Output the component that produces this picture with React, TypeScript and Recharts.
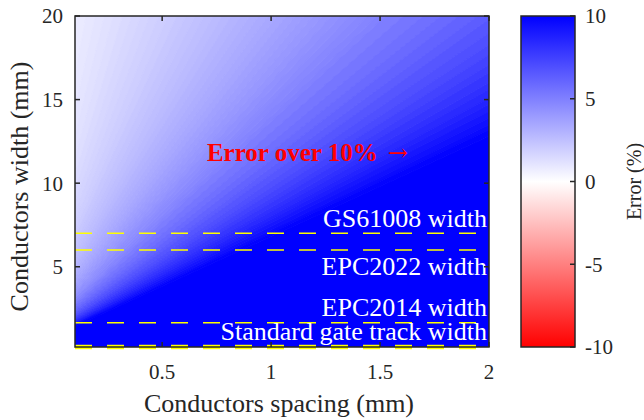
import React from 'react';
import {
  ComposedChart,
  Area,
  Line,
  XAxis,
  YAxis,
  ReferenceLine,
  ReferenceDot,
  ReferenceArea,
} from 'recharts';

// error contour levels (%) and the conductor width (mm) where each level
// line crosses the left (spacing 0.1 mm) and right (spacing 2 mm) edge
const errorLevels = [
  0.625, 0.75, 0.875, 1, 1.125, 1.25, 1.375, 1.5, 1.625, 1.75,
  1.875, 2, 2.125, 2.25, 2.375, 2.5, 2.625, 2.75, 2.875, 3,
  3.125, 3.25, 3.375, 3.5, 3.625, 3.75, 3.875, 4, 4.125, 4.25,
  4.375, 4.5, 4.625, 4.75, 4.875, 5, 5.25, 5.5, 5.75, 6,
  6.25, 6.5, 6.75, 7, 7.25, 7.5, 7.75, 8, 8.25, 8.5,
  8.75, 9, 9.25, 9.5, 9.75, 10,
];
const widthAtLeft = [
  23.04, 19.2, 16.46, 14.4, 12.8, 11.52, 10.47, 9.6, 8.86, 8.23,
  7.68, 7.2, 6.78, 6.4, 6.06, 5.76, 5.49, 5.24, 5.01, 4.8,
  4.61, 4.43, 4.27, 4.11, 3.97, 3.84, 3.72, 3.6, 3.49, 3.39,
  3.29, 3.2, 3.11, 3.03, 2.95, 2.88, 2.74, 2.62, 2.5, 2.4,
  2.3, 2.22, 2.13, 2.06, 1.99, 1.92, 1.86, 1.8, 1.75, 1.69,
  1.65, 1.6, 1.56, 1.52, 1.48, 1.44,
];
const widthAtRight = [
  205.4, 171.2, 146.7, 128.4, 114.1, 102.7, 93.4, 85.6, 79.0, 73.4,
  68.5, 64.2, 60.4, 57.1, 54.1, 51.4, 48.9, 46.7, 44.7, 42.8,
  41.1, 39.5, 38.0, 36.7, 35.4, 34.2, 33.1, 32.1, 31.1, 30.2,
  29.3, 28.5, 27.8, 27.0, 26.3, 25.7, 24.5, 23.3, 22.3, 21.4,
  20.5, 19.8, 19.0, 18.3, 17.7, 17.1, 16.6, 16.0, 15.6, 15.1,
  14.7, 14.3, 13.9, 13.5, 13.2, 12.8,
];
const spacingEnds = [0.1, 2];
const widthRange = [0.2, 20];

const spacingTicks = [0.5, 1, 1.5, 2];
const widthTicks = [5, 10, 15, 20];

// reference device widths (mm)
const deviceNames = ['GS61008 width', 'EPC2022 width', 'EPC2014 width', 'Standard gate track width'];
const deviceWidths = [7, 6, 1.65, 0.2];

// colour scale
const cbarTicks = [-10, -5, 0, 5, 10];
const cbarColors = ['#ff0000', '#ff8080', '#ffffff', '#8080ff', '#0000ff'];

const FONT = '"Liberation Serif", "Times New Roman", Times, serif';
const INK = '#262626';

// plot box of the map, in page pixels
const PLOT = { left: 75, top: 16, right: 489, bottom: 347 };
const MAP_W = 500;
const H = 420;
const CBAR = { left: 21, right: 75, width: 144 };

const hexToRgb = (h: string) => [1, 3, 5].map((i) => parseInt(h.slice(i, i + 2), 16));

function errorColor(e: number) {
  const v = Math.max(cbarTicks[0], Math.min(cbarTicks[cbarTicks.length - 1], e));
  let i = 0;
  while (i < cbarTicks.length - 2 && v > cbarTicks[i + 1]) i++;
  const t = (v - cbarTicks[i]) / (cbarTicks[i + 1] - cbarTicks[i]);
  const a = hexToRgb(cbarColors[i]);
  const b = hexToRgb(cbarColors[i + 1]);
  const c = a.map((x, k) => Math.round(x + (b[k] - x) * t));
  return `rgb(${c[0]},${c[1]},${c[2]})`;
}

// one row per plot edge; each band spans two neighbouring contour lines
const bandCount = errorLevels.length - 1;
const mapRows = spacingEnds.map((s, i) => {
  const edge = i === 0 ? widthAtLeft : widthAtRight;
  const row: Record<string, any> = { s };
  for (let k = 0; k < bandCount; k++) row[`band${k}`] = [edge[k + 1], edge[k]];
  row.saturated = [0, edge[edge.length - 1]];
  return row;
});
const bandColors = errorLevels.slice(0, -1).map((e, k) => errorColor((e + errorLevels[k + 1]) / 2));

const cbarRows = [0, 1].map((p) => ({ p, span: [cbarTicks[0], cbarTicks[cbarTicks.length - 1]] }));

const labelDy = [-6, 24.5, -6.5, -7.5];

function DeviceLabel(props: any) {
  const { viewBox, text, dy } = props;
  if (!viewBox) return null;
  return (
    <text
      x={viewBox.x + viewBox.width - 2}
      y={viewBox.y + dy}
      textAnchor="end"
      fill="#ffffff"
      fontSize={26}
      fontFamily={FONT}
    >
      {text}
    </text>
  );
}

function OverLabel(props: any) {
  const { viewBox } = props;
  if (!viewBox) return null;
  return (
    <text x={viewBox.x} y={viewBox.y} fill="#ff0000" fontSize={25} fontFamily={FONT} fontWeight="bold">
      Error over 10%
      <tspan dx={10} fontWeight="normal" fontFamily='"DejaVu Serif", serif' fontSize={24}>→</tspan>
    </text>
  );
}

function XTitle(props: any) {
  const { viewBox } = props;
  if (!viewBox) return null;
  return (
    <text x={viewBox.x + viewBox.width / 2 - 3} y={viewBox.y + 65} textAnchor="middle" fill={INK} fontSize={26} fontFamily={FONT}>
      Conductors spacing (mm)
    </text>
  );
}

function YTitle(props: any) {
  const { viewBox } = props;
  if (!viewBox) return null;
  const x = viewBox.x + 28;
  const y = viewBox.y + viewBox.height / 2 + 5;
  return (
    <text x={x} y={y} transform={`rotate(-90, ${x}, ${y})`} textAnchor="middle" fill={INK} fontSize={26} fontFamily={FONT}>
      Conductors width (mm)
    </text>
  );
}

function CbarTitle(props: any) {
  const { viewBox } = props;
  if (!viewBox) return null;
  const x = viewBox.x + 66;
  const y = viewBox.y + viewBox.height / 2;
  return (
    <text x={x} y={y} transform={`rotate(-90, ${x}, ${y})`} textAnchor="middle" fill={INK} fontSize={20} fontFamily={FONT}>
      Error (%)
    </text>
  );
}

// inward tick marks on both sides of the box, MATLAB style
function SpacingTick(props: any) {
  const { x, y, payload } = props;
  return (
    <g>
      <line x1={x} y1={y} x2={x} y2={y - 5} stroke={INK} strokeWidth={1.5} />
      <line x1={x} y1={PLOT.top} x2={x} y2={PLOT.top + 5} stroke={INK} strokeWidth={1.5} />
      <text x={x} y={y + 17} dy="0.71em" textAnchor="middle" fill={INK} fontSize={21} fontFamily={FONT}>
        {payload.value}
      </text>
    </g>
  );
}

function WidthTick(props: any) {
  const { x, y, payload } = props;
  return (
    <g>
      <line x1={x} y1={y} x2={x + 5} y2={y} stroke={INK} strokeWidth={1.5} />
      <line x1={PLOT.right - 5} y1={y} x2={PLOT.right} y2={y} stroke={INK} strokeWidth={1.5} />
      <text x={x - 12} y={y} dy="0.35em" textAnchor="end" fill={INK} fontSize={21} fontFamily={FONT}>
        {payload.value}
      </text>
    </g>
  );
}

function CbarTick(props: any) {
  const { x, y, payload } = props;
  return (
    <g>
      <line x1={x - 5} y1={y} x2={x} y2={y} stroke={INK} strokeWidth={1.5} />
      <text x={x + 10} y={y} dy="0.35em" textAnchor="start" fill={INK} fontSize={21} fontFamily={FONT}>
        {payload.value}
      </text>
    </g>
  );
}

const mapMargin = { top: PLOT.top, right: MAP_W - PLOT.right, bottom: H - PLOT.bottom, left: PLOT.left };

// filled error map, device lines and their captions
function ErrorMap() {
  return (
    <ComposedChart width={MAP_W} height={H} data={mapRows} margin={mapMargin}>
      <XAxis dataKey="s" type="number" domain={spacingEnds} allowDataOverflow hide />
      <YAxis type="number" domain={widthRange} allowDataOverflow hide />
      {errorLevels.slice(0, -1).map((_, k) => (
        <Area
          key={k}
          type="linear"
          dataKey={`band${k}`}
          fill={bandColors[k]}
          fillOpacity={1}
          stroke={bandColors[k]}
          strokeWidth={0.8}
          dot={false}
          activeDot={false}
          isAnimationActive={false}
        />
      ))}
      <Area
        type="linear"
        dataKey="saturated"
        fill={errorColor(10)}
        fillOpacity={1}
        stroke={errorColor(10)}
        strokeWidth={0.8}
        dot={false}
        activeDot={false}
        isAnimationActive={false}
      />
      {deviceWidths.map((w, i) => (
        <ReferenceLine
          key={deviceNames[i]}
          y={w}
          stroke="#ffff00"
          strokeWidth={i === 3 ? 4.5 : 1.5}
          strokeDasharray="17 15"
          label={<DeviceLabel text={deviceNames[i]} dy={labelDy[i]} />}
        />
      ))}
      <ReferenceDot x={0.71} y={11.26} r={1} fill="none" stroke="none" label={<OverLabel />} />
    </ComposedChart>
  );
}

// axes, ticks and box drawn over the map
function MapFrame() {
  return (
    <ComposedChart
      width={MAP_W}
      height={H}
      data={mapRows}
      margin={{ top: PLOT.top, right: MAP_W - PLOT.right, bottom: 0, left: 0 }}
      style={{ background: 'transparent' }}
    >
      <XAxis
        dataKey="s"
        type="number"
        domain={spacingEnds}
        ticks={spacingTicks}
        allowDataOverflow
        height={H - PLOT.bottom}
        axisLine={false}
        tickLine={false}
        tickSize={0}
        tickMargin={0}
        tick={<SpacingTick />}
        label={<XTitle />}
      />
      <YAxis
        type="number"
        domain={widthRange}
        ticks={widthTicks}
        allowDataOverflow
        width={PLOT.left}
        axisLine={false}
        tickLine={false}
        tickSize={0}
        tickMargin={0}
        tick={<WidthTick />}
        label={<YTitle />}
      />
      <Line dataKey="s" stroke="none" dot={false} activeDot={false} isAnimationActive={false} />
      <ReferenceArea
        x1={spacingEnds[0]}
        x2={spacingEnds[1]}
        y1={widthRange[0]}
        y2={widthRange[1]}
        fill="none"
        stroke={INK}
        strokeWidth={1.5}
      />
    </ComposedChart>
  );
}

const cbarMargin = { top: PLOT.top, right: CBAR.width - CBAR.right, bottom: H - PLOT.bottom, left: CBAR.left };

function ColorBarFill() {
  return (
    <ComposedChart width={CBAR.width} height={H} data={cbarRows} margin={cbarMargin}>
      <defs>
        <linearGradient id="cbarFill" x1="0" y1="1" x2="0" y2="0">
          {cbarTicks.map((t, i) => (
            <stop
              key={t}
              offset={(t - cbarTicks[0]) / (cbarTicks[cbarTicks.length - 1] - cbarTicks[0])}
              stopColor={cbarColors[i]}
            />
          ))}
        </linearGradient>
      </defs>
      <XAxis dataKey="p" type="number" domain={[0, 1]} hide />
      <YAxis type="number" domain={[cbarTicks[0], cbarTicks[cbarTicks.length - 1]]} hide />
      <Area
        type="linear"
        dataKey="span"
        fill="url(#cbarFill)"
        fillOpacity={1}
        stroke="none"
        dot={false}
        activeDot={false}
        isAnimationActive={false}
      />
    </ComposedChart>
  );
}

function ColorBarFrame() {
  return (
    <ComposedChart
      width={CBAR.width}
      height={H}
      data={cbarRows}
      margin={{ top: PLOT.top, right: 0, bottom: H - PLOT.bottom, left: CBAR.left }}
    >
      <XAxis dataKey="p" type="number" domain={[0, 1]} hide />
      <YAxis
        orientation="right"
        type="number"
        domain={[cbarTicks[0], cbarTicks[cbarTicks.length - 1]]}
        ticks={cbarTicks}
        width={CBAR.width - CBAR.right}
        axisLine={false}
        tickLine={false}
        tickSize={0}
        tickMargin={0}
        tick={<CbarTick />}
        label={<CbarTitle />}
      />
      <Line dataKey="p" stroke="none" dot={false} activeDot={false} isAnimationActive={false} />
      <ReferenceArea
        x1={0}
        x2={1}
        y1={cbarTicks[0]}
        y2={cbarTicks[cbarTicks.length - 1]}
        fill="none"
        stroke={INK}
        strokeWidth={1.5}
      />
    </ComposedChart>
  );
}

const layer = (left: number): React.CSSProperties => ({ position: 'absolute', left, top: 0 });

export default function App() {
  return (
    <div style={{ position: 'absolute', left: 0, top: 0, width: 644, height: H, background: '#ffffff' }}>
      <div style={layer(0)}>
        <ErrorMap />
      </div>
      <div style={layer(0)}>
        <MapFrame />
      </div>
      <div style={layer(MAP_W)}>
        <ColorBarFill />
      </div>
      <div style={layer(MAP_W)}>
        <ColorBarFrame />
      </div>
    </div>
  );
}
